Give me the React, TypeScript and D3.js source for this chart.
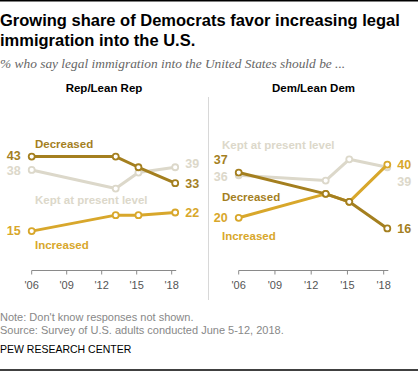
import React from "react";
import * as d3 from "d3";

const years = [2006, 2013.2, 2015.15, 2018.3];
const tickYears = [2006, 2009, 2012, 2015, 2018];
const tickLabels = ["'06", "'09", "'12", "'15", "'18"];

const repDecreased = [43, 43, 39, 33];
const repKept = [38, 31, 37, 39];
const repIncreased = [15, 21, 21, 22];

const demDecreased = [37, 29, 26, 16];
const demKept = [36, 34, 42, 39];
const demIncreased = [20, 29, 26, 40];

const C_DEC = "#a47f1f";
const C_INC = "#d8a72b";
const C_KEPT = "#dcd8ca";

const FONT = "'Liberation Sans', Arial, sans-serif";

type Lbl = { text: string; x: number; y: number; color: string; anchor?: string };

function Panel({ x0, x1, title, titleX, series, startLabels, endLabels, seriesLabels }: any) {
  const x = d3.scaleLinear().domain([2006, 2018]).range([x0, x1]);
  const y = d3.scaleLinear().domain([0, 50]).range([271, 138]);
  const line = d3
    .line<number>()
    .x((_, i) => x(years[i]))
    .y((d) => y(d));
  const axisEnd = x(years[years.length - 1]) + 1;
  return (
    <g>
      <text x={titleX} y={91.5} textAnchor="middle" fontFamily={FONT} fontWeight="bold" fontSize={11.5} fill="#000">
        {title}
      </text>
      <line x1={x(2006)} x2={axisEnd} y1={270.5} y2={270.5} stroke="#8a8a8a" strokeWidth={1} />
      {tickYears.map((t, i) => (
        <g key={t}>
          <line x1={x(t)} x2={x(t)} y1={270.5} y2={274.5} stroke="#8a8a8a" strokeWidth={1} />
          <text x={x(t)} y={289} textAnchor="middle" fontFamily={FONT} fontSize={11} fill="#555">
            {tickLabels[i]}
          </text>
        </g>
      ))}
      {series.map((s: any) => (
        <g key={s.name}>
          <path d={line(s.values) || ""} fill="none" stroke={s.color} strokeWidth={3} strokeLinejoin="round" />
          {s.values.map((v: number, i: number) => (
            <circle key={i} cx={x(years[i])} cy={y(v)} r={3} fill="#fff" stroke={s.color} strokeWidth={1.8} />
          ))}
        </g>
      ))}
      {startLabels.map((l: any) => (
        <text key={"s" + l.text + l.color} x={x(2006) - 11} y={y(l.pos) + 4.3} textAnchor="end" fontFamily={FONT} fontSize={12.5} fontWeight="bold" fill={l.color}>
          {l.text}
        </text>
      ))}
      {endLabels.map((l: any) => (
        <text key={"e" + l.text + l.color} x={x(years[3]) + 10} y={y(l.pos) + 4.3} textAnchor="start" fontFamily={FONT} fontSize={12.5} fontWeight="bold" fill={l.color}>
          {l.text}
        </text>
      ))}
      {seriesLabels.map((l: Lbl) => (
        <text key={l.text} x={l.x} y={l.y} fontFamily={FONT} fontSize={11.5} fontWeight="bold" fill={l.color}>
          {l.text}
        </text>
      ))}
    </g>
  );
}

export default function App() {
  return (
    <svg width={418} height={371} style={{ position: "absolute", left: 0, top: 0, background: "#fff" }}>
      <line x1={0} x2={418} y1={0.75} y2={0.75} stroke="#000" strokeWidth={1.5} />
      <text x={0} y={26} fontFamily={FONT} fontWeight="bold" fontSize={16.5} fill="#000">
        Growing share of Democrats favor increasing legal
      </text>
      <text x={0} y={46} fontFamily={FONT} fontWeight="bold" fontSize={16.5} fill="#000">
        immigration into the U.S.
      </text>
      <text x={0} y={68} fontFamily="'Liberation Serif', Georgia, serif" fontStyle="italic" fontSize={13.4} fill="#666">
        % who say legal immigration into the United States should be ...
      </text>
      <line x1={208.5} x2={208.5} y1={97} y2={300} stroke="#d8d8d8" strokeWidth={1} />

      <Panel
        x0={31.7}
        x1={171.7}
        title="Rep/Lean Rep"
        titleX={104}
        series={[
          { name: "kept", values: repKept, color: C_KEPT },
          { name: "inc", values: repIncreased, color: C_INC },
          { name: "dec", values: repDecreased, color: C_DEC },
        ]}
        startLabels={[
          { text: String(repDecreased[0]), pos: 43.3, color: C_DEC },
          { text: String(repKept[0]), pos: 37.8, color: C_KEPT },
          { text: String(repIncreased[0]), pos: repIncreased[0], color: C_INC },
        ]}
        endLabels={[
          { text: String(repKept[3]), pos: 40.2, color: C_KEPT },
          { text: String(repDecreased[3]), pos: repDecreased[3], color: C_DEC },
          { text: String(repIncreased[3]), pos: repIncreased[3], color: C_INC },
        ]}
        seriesLabels={[
          { text: "Decreased", x: 35, y: 147.5, color: C_DEC },
          { text: "Kept at present level", x: 35, y: 203.5, color: C_KEPT },
          { text: "Increased", x: 35, y: 249, color: C_INC },
        ]}
      />
      <Panel
        x0={238.7}
        x1={383.7}
        title="Dem/Lean Dem"
        titleX={313.5}
        series={[
          { name: "kept", values: demKept, color: C_KEPT },
          { name: "inc", values: demIncreased, color: C_INC },
          { name: "dec", values: demDecreased, color: C_DEC },
        ]}
        startLabels={[
          { text: String(demDecreased[0]), pos: 41.7, color: C_DEC },
          { text: String(demKept[0]), pos: 35.6, color: C_KEPT },
          { text: String(demIncreased[0]), pos: demIncreased[0], color: C_INC },
        ]}
        endLabels={[
          { text: String(demIncreased[3]), pos: 39.8, color: C_INC },
          { text: String(demKept[3]), pos: 33.4, color: C_KEPT },
          { text: String(demDecreased[3]), pos: demDecreased[3], color: C_DEC },
        ]}
        seriesLabels={[
          { text: "Kept at present level", x: 222, y: 148.5, color: C_KEPT },
          { text: "Decreased", x: 222, y: 201, color: C_DEC },
          { text: "Increased", x: 222, y: 240, color: C_INC },
        ]}
      />

      <text x={0} y={320.5} fontFamily={FONT} fontSize={11} fill="#888">
        Note: Don't know responses not shown.
      </text>
      <text x={0} y={334} fontFamily={FONT} fontSize={11} fill="#888">
        Source: Survey of U.S. adults conducted June 5-12, 2018.
      </text>
      <text x={0} y={353} fontFamily={FONT} fontSize={10.5} fill="#000">
        PEW RESEARCH CENTER
      </text>
      <line x1={0} x2={418} y1={370} y2={370} stroke="#000" strokeWidth={1.5} />
    </svg>
  );
}
